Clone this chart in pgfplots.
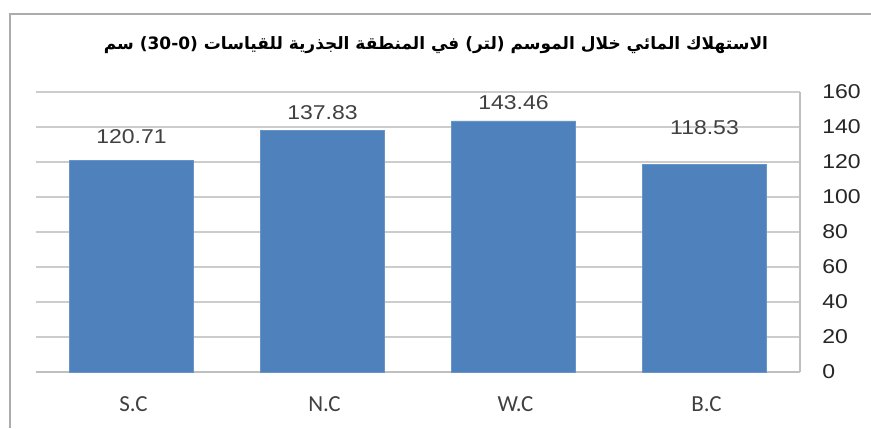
\documentclass[border=0pt]{standalone}
\usepackage{fontspec}
\usepackage{pgfplots}
\usepackage{pgfplotstable}
\pgfplotsset{compat=1.18}
\TeXXeTstate=1
\setmainfont{Liberation Sans}
\newfontfamily\numfont[FakeStretch=1.15]{Liberation Sans}
\newfontfamily\catfont{Carlito}
\newfontfamily\arabicfont[Script=Arabic]{DejaVu Sans}
\newfontfamily\latinbold{DejaVu Sans}
\definecolor{barblue}{HTML}{4F81BD}
\definecolor{txtgray}{HTML}{404040}

% x  value  label offset (pt)  label
\pgfplotstableread{
x y off lab
0 120.71 12 120.71
1 137.83 9 137.83
2 143.46 9 143.46
3 118.53 18.5 118.53
}\consdata

\begin{document}
\begin{tikzpicture}
\path[use as bounding box] (-18pt,-28pt) rectangle (417.5pt,186pt);
\draw[gray!65, line width=1.2pt] (-13pt,-28pt) -- (-13pt,179pt) -- (417.5pt,179pt);
\begin{axis}[
    at={(0,0)}, anchor=south west,
    scale only axis,
    width=382pt, height=140pt,
    xmin=-0.5, xmax=3.5,
    ymin=0, ymax=160,
    ytick={0,20,...,160},
    xtick={0,1,2,3},
    xticklabels={S.C,N.C,W.C,B.C},
    axis x line*=bottom,
    axis y line*=right,
    axis line style={draw=gray!50, line width=0.8pt},
    major tick length=0pt,
    ymajorgrids=true,
    grid style={draw=gray!40, line width=0.8pt},
    yticklabel style={font=\numfont\fontsize{10}{12}\selectfont, text=black!85, anchor=west, inner sep=0pt, xshift=11pt},
    xticklabel style={font=\catfont\fontsize{11.5}{13}\selectfont, text=txtgray, anchor=center, yshift=-16pt, xshift=1pt},
    /pgf/number format/assume math mode=true,
    ybar, bar width=62pt,
    clip=false,
]
\addplot[fill=barblue, draw=barblue!85!white,
    visualization depends on={\thisrow{off}\as\labeloff},
    point meta=explicit symbolic,
    nodes near coords,
    nodes near coords style={anchor=center, yshift=\labeloff pt,
        font=\numfont\fontsize{10}{12}\selectfont, text=txtgray},
] table[x=x, y=y, meta=lab] {\consdata};
\end{axis}
\node[font=\arabicfont\bfseries\fontsize{8.5}{10}\selectfont] at (200pt,163.5pt)
  {\beginR الاستهلاك المائي خلال الموسم (لتر) في المنطقة الجذرية للقياسات (\beginL{\latinbold\bfseries 30-0}\endL{}) سم\endR};
\end{tikzpicture}
\end{document}
